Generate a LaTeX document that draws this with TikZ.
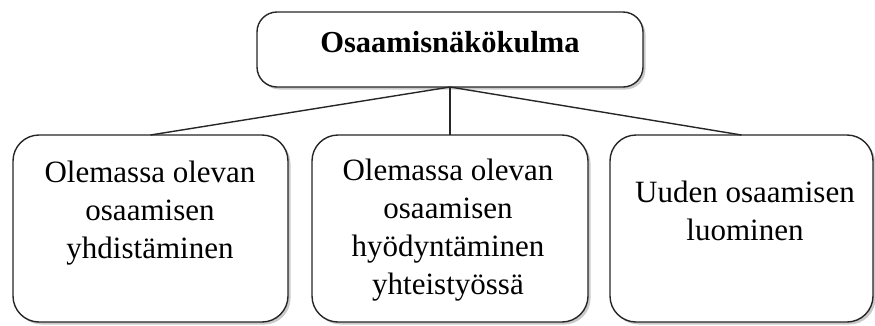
\documentclass[tikz,border=0pt]{standalone}
\usepackage{fontspec}
\setmainfont{Liberation Serif}
\usetikzlibrary{shadows}
\begin{document}
\begin{tikzpicture}[x=1pt,y=1pt,
  boxstyle/.style={draw=black!85, line width=1.4pt, fill=white,
    inner sep=0pt, outer sep=0pt,
    drop shadow={shadow xshift=2.5pt, shadow yshift=-2.5pt, opacity=0.35, fill=black!60}},
  topbox/.style={boxstyle, rounded corners=20pt, minimum width=386pt, minimum height=75pt},
  subbox/.style={boxstyle, rounded corners=26pt, minimum height=187pt},
  txt/.style={inner sep=0pt, align=center, font=\fontsize{31}{38}\selectfont},
  link/.style={draw=black!85, line width=1.4pt}]
  \useasboundingbox (0,0) rectangle (875,-325);

  % boxes
  \node[topbox] (top) at (450,-49.5) {};
  \node[subbox, minimum width=275pt] (left) at (150.5,-228.5) {};
  \node[subbox, minimum width=276pt] (mid) at (450,-228.5) {};
  \node[subbox, minimum width=263pt] (right) at (741.5,-228.5) {};

  % texts
  \node[txt, anchor=base, font=\fontsize{30.5}{38}\selectfont\bfseries] (toptxt) at (450,-52) {Osaamisnäkökulma};
  \node[txt, anchor=north] (lefttxt) at (150,-161) {Olemassa olevan\\osaamisen\\yhdistäminen};
  \node[txt, anchor=north] (midtxt) at (448,-159) {Olemassa olevan\\osaamisen\\hyödyntäminen\\yhteistyössä};
  \node[txt, anchor=north] (righttxt) at (745,-181) {Uuden osaamisen\\luominen};

  % connectors
  \draw[link] (top.south) -- (left.north);
  \draw[link] (top.south) -- (mid.north);
  \draw[link] (top.south) -- (right.north);
\end{tikzpicture}
\end{document}
